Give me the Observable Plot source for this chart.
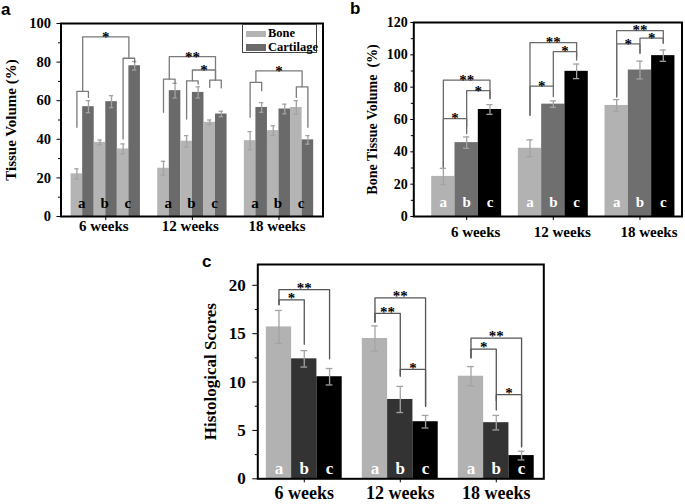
<!DOCTYPE html>
<html><head><meta charset="utf-8">
<script src="https://cdn.jsdelivr.net/npm/d3@7"></script>
<script src="https://cdn.jsdelivr.net/npm/@observablehq/plot@0.6"></script>
<style>
body{margin:0;background:#fff;}
#fig{position:relative;width:685px;height:504px;overflow:hidden;font-family:'Liberation Serif','Times New Roman',serif;}
.p{position:absolute;}
.tag{position:absolute;font-family:'Liberation Sans',Arial,sans-serif;font-weight:bold;font-size:17px;line-height:1.1;}
.lg{position:absolute;font-family:'Liberation Serif',serif;font-weight:bold;font-size:12.5px;line-height:1;}
</style></head>
<body>
<div id="fig">
  <div class="p" id="pa" style="left:0;top:0"></div>
  <div class="p" id="pb" style="left:345px;top:0"></div>
  <div class="p" id="pc" style="left:150px;top:250px"></div>
  <div class="tag" style="left:1px;top:1px">a</div>
  <div class="tag" style="left:350px;top:0px">b</div>
  <div class="tag" style="left:202px;top:253px">c</div>
  <div style="position:absolute;left:242px;top:24px;width:73px;height:27px;border:1px solid #444;background:#fff"></div>
  <div style="position:absolute;left:246px;top:31px;width:20px;height:6px;background:#b4b4b4"></div>
  <div class="lg" style="left:268px;top:27px">Bone</div>
  <div style="position:absolute;left:246px;top:44px;width:20px;height:7px;background:#6a6a6a"></div>
  <div class="lg" style="left:268px;top:41px">Cartilage</div>
</div>
<script>
const weeks = ["6 weeks", "12 weeks", "18 weeks"];
const groups = ["a", "b", "c"];

// Panel a: Tissue Volume (%), week-major order, groups a,b,c
const boneMean = [22.1, 38.4, 35, 25, 39, 48.8, 39.3, 44.5, 56.5];
const boneErr  = [2.6, 1.2, 2.6, 3.6, 2.9, 1.2, 4.7, 2.5, 3.5];
const cartMean = [56.9, 59.5, 78.1, 65.2, 64.3, 53.1, 56.5, 55.7, 39.7];
const cartErr  = [3.1, 3.1, 2.2, 3.8, 2.9, 1.4, 2.5, 2.5, 2.2];

// Panel b: Bone Tissue Volume (%)
const bvMean = [24.8, 45.7, 66.2, 42.2, 69.5, 89.8, 68.7, 90.6, 99.5];
const bvErr  = [5, 3.5, 3, 5.2, 2, 4.5, 3.6, 5.5, 3.5];

// Panel c: Histological Scores
const hsMean = [15.7, 12.4, 10.55, 14.5, 8.2, 5.9, 10.6, 5.8, 2.4];
const hsErr  = [1.7, 0.85, 0.85, 1.3, 1.35, 0.65, 1.0, 0.75, 0.45];

// Significance brackets: w = week, l/r = bar indices inside the week,
// y = bracket level, yl/yr = leg ends (data units), t = label
const aSig = [
  {w:0, l:[0], r:[1], y:64.8, yl:46.2, yr:61.7, t:""},
  {w:0, l:[4], r:[5], y:82, yl:40.2, yr:79.8, t:""},
  {w:0, l:[0,1], r:[4,5], y:93.1, yl:64.8, yr:82, t:"*"},
  {w:1, l:[0], r:[1], y:71.2, yl:54, yr:69, t:""},
  {w:1, l:[2], r:[3], y:70.3, yl:50.5, yr:68.6, t:""},
  {w:1, l:[4], r:[5], y:70.7, yl:66.9, yr:66.6, t:""},
  {w:1, l:[0,1], r:[4,5], y:82.8, yl:71.2, yr:70.7, t:"**"},
  {w:1, l:[2,3], r:[4,5], y:75.9, yl:70.3, yr:70.7, t:"*"},
  {w:2, l:[0], r:[1], y:69.5, yl:51.4, yr:65.2, t:""},
  {w:2, l:[4], r:[5], y:67.2, yl:61.7, yr:46.2, t:""},
  {w:2, l:[0,1], r:[4,5], y:75.5, yl:69.5, yr:67.2, t:"*"}
];
const bSig = [
  {w:0, l:[0], r:[1], y:60.6, yl:30.6, yr:55.9, t:"*"},
  {w:0, l:[1], r:[2], y:77.8, yl:51.3, yr:73, t:"*"},
  {w:0, l:[0], r:[2], y:84.4, yl:30.6, yr:73, t:"**"},
  {w:1, l:[0], r:[1], y:80.7, yl:62.7, yr:74.1, t:"*"},
  {w:1, l:[1], r:[2], y:102, yl:80.7, yr:98.9, t:"*"},
  {w:1, l:[0], r:[2], y:107.6, yl:62.7, yr:96.8, t:"**"},
  {w:2, l:[0], r:[1], y:106.8, yl:74, yr:101, t:"*"},
  {w:2, l:[1], r:[2], y:110.3, yl:101, yr:107.2, t:"*"},
  {w:2, l:[0], r:[2], y:115, yl:74, yr:107.2, t:"**"}
];
const cSig = [
  {w:0, l:[0], r:[1], y:18.5, yl:18.0, yr:13.9, t:"*"},
  {w:0, l:[0], r:[2], y:19.55, yl:18.0, yr:12.4, t:"**"},
  {w:1, l:[0], r:[1], y:17.1, yl:16.2, yr:10.6, t:"**"},
  {w:1, l:[0], r:[2], y:18.7, yl:16.2, yr:7.5, t:"**"},
  {w:1, l:[1], r:[2], y:11.3, yl:10.7, yr:7.5, t:"*"},
  {w:2, l:[0], r:[1], y:13.4, yl:12.5, yr:7.1, t:"*"},
  {w:2, l:[0], r:[2], y:14.55, yl:12.5, yr:3.3, t:"**"},
  {w:2, l:[1], r:[2], y:8.7, yl:8.1, yr:3.3, t:"*"}
];

const FONT = "'Liberation Serif','Times New Roman',serif";

function center(w, i, k, bw) { return w + (i - (k - 1) / 2) * bw; }

function bracketPts(sig, k, bw) {
  const pts = [];
  sig.forEach((s, j) => {
    const xl = d3.mean(s.l, i => center(s.w, i, k, bw));
    const xr = d3.mean(s.r, i => center(s.w, i, k, bw));
    pts.push({j, x: xl, y: s.yl}, {j, x: xl, y: s.y}, {j, x: xr, y: s.y}, {j, x: xr, y: s.yr});
  });
  return pts;
}
function bracketLabels(sig, k, bw) {
  return sig.filter(s => s.t).map(s => ({
    x: (d3.mean(s.l, i => center(s.w, i, k, bw)) + d3.mean(s.r, i => center(s.w, i, k, bw))) / 2,
    y: s.y, t: s.t
  }));
}

function panel(cfg) {
  const {bars, k, bw, cap, sig} = cfg;
  const errColor = "#a3a3a3";
  return Plot.plot({
    width: cfg.width, height: cfg.height,
    marginLeft: cfg.ml, marginRight: cfg.mr, marginTop: cfg.mt, marginBottom: cfg.mb,
    x: {domain: cfg.xDomain},
    y: {domain: cfg.yDomain},
    style: {fontFamily: FONT, fontWeight: "bold", fontSize: cfg.tickFont + "px", color: "black", background: "transparent", overflow: "visible"},
    marks: [
      Plot.rect(bars, {x1: d => d.c - bw / 2, x2: d => d.c + bw / 2, y1: d => 0, y2: "v", fill: "color"}),
      Plot.ruleX(bars, {x: "c", y1: d => d.v - d.e, y2: d => d.v + d.e, stroke: errColor, strokeWidth: 1.3}),
      Plot.ruleY(bars, {y: d => d.v + d.e, x1: d => d.c - cap, x2: d => d.c + cap, stroke: errColor, strokeWidth: 1.3}),
      Plot.ruleY(bars, {y: d => d.v - d.e, x1: d => d.c - cap, x2: d => d.c + cap, stroke: errColor, strokeWidth: 1.3}),
      Plot.line(bracketPts(sig, k, bw), {x: "x", y: "y", z: "j", stroke: cfg.sigColor, strokeWidth: 1.3}),
      Plot.text(bracketLabels(sig, k, bw), {x: "x", y: "y", text: "t", dy: cfg.starDy, fontSize: cfg.starFont, fill: "black"}),
      Plot.text(cfg.letters, {x: "x", y: d => 0, text: "t", dy: cfg.letterDy, dx: cfg.letterDx, fill: cfg.letterColor, fontSize: cfg.letterFont}),
      Plot.axisY({ticks: cfg.yTicks, tickSize: cfg.tickSize, tickPadding: cfg.tickPad, label: null, fontSize: cfg.tickFont}),
      Plot.axisY({ticks: cfg.yMinor, tickSize: 2.5, tickFormat: () => "", label: null}),
      Plot.axisX({ticks: [0, 1, 2], tickSize: 4, tickFormat: () => "", label: null}),
      Plot.text(weeks, {x: (d, i) => i, frameAnchor: "bottom", dy: cfg.weekDy, dx: cfg.weekDx, fontSize: cfg.weekFont, text: d => d}),
      Plot.text([cfg.ylabel], {frameAnchor: "left", textAnchor: "middle", rotate: -90, dx: cfg.ylabelDx, fontSize: cfg.ylabelFont, text: d => d}),
      Plot.frame({stroke: "black", strokeWidth: 2})
    ]
  });
}

// ---- Panel a
{
  const k = 6, bw = 0.1334;
  const bars = [], letters = [];
  for (let w = 0; w < 3; w++) for (let g = 0; g < 3; g++) {
    const n = w * 3 + g;
    bars.push({c: center(w, 2 * g, k, bw), v: boneMean[n], e: boneErr[n], color: "#b4b4b4"});
    bars.push({c: center(w, 2 * g + 1, k, bw), v: cartMean[n], e: cartErr[n], color: "#6a6a6a"});
    letters.push({x: (center(w, 2 * g, k, bw) + center(w, 2 * g + 1, k, bw)) / 2, t: groups[g]});
  }
  document.getElementById("pa").append(panel({
    bars, k, bw, cap: 0.025, sig: aSig, letters,
    width: 345, height: 250, ml: 60.5, mr: 22.5, mt: 23, mb: 34,
    xDomain: [-0.517, 2.508], yDomain: [0, 100],
    yTicks: [0, 20, 40, 60, 80, 100], yMinor: [10, 30, 50, 70, 90],
    tickFont: 14.5, tickSize: 4, tickPad: 6,
    sigColor: "#7a7a7a", starFont: 15, starDy: 0,
    letterColor: "black", letterFont: 15, letterDy: -13, letterDx: -1,
    weekFont: 15, weekDy: 14, weekDx: -2,
    ylabel: "Tissue Volume (%)", ylabelFont: 15, ylabelDx: -49.5
  }));
}
// ---- Panel b
{
  const k = 3, bw = 0.269;
  const colors = ["#b2b2b2", "#6f6f6f", "#000000"];
  const bars = [], letters = [];
  for (let w = 0; w < 3; w++) for (let g = 0; g < 3; g++) {
    const n = w * 3 + g;
    bars.push({c: center(w, g, k, bw), v: bvMean[n], e: bvErr[n], color: colors[g]});
    letters.push({x: center(w, g, k, bw), t: groups[g]});
  }
  document.getElementById("pb").append(panel({
    bars, k, bw, cap: 0.036, sig: bSig, letters,
    width: 340, height: 250, ml: 68.3, mr: 3.5, mt: 22, mb: 34,
    xDomain: [-0.61, 2.485], yDomain: [0, 120],
    yTicks: [0, 20, 40, 60, 80, 100, 120], yMinor: [10, 30, 50, 70, 90, 110],
    tickFont: 14, tickSize: 3, tickPad: 3,
    sigColor: "#6a6a6a", starFont: 15, starDy: 0,
    letterColor: "white", letterFont: 15, letterDy: -14, letterDx: 0,
    weekFont: 15, weekDy: 20, weekDx: 9,
    ylabel: "Bone Tissue Volume\u00a0 (%)", ylabelFont: 14, ylabelDx: -41.6
  }));
}
// ---- Panel c
{
  const k = 3, bw = 0.2635;
  const colors = ["#b2b2b2", "#333333", "#000000"];
  const bars = [], letters = [];
  for (let w = 0; w < 3; w++) for (let g = 0; g < 3; g++) {
    const n = w * 3 + g;
    bars.push({c: center(w, g, k, bw), v: hsMean[n], e: hsErr[n], color: colors[g]});
    letters.push({x: center(w, g, k, bw), t: groups[g]});
  }
  document.getElementById("pc").append(panel({
    bars, k, bw, cap: 0.035, sig: cSig, letters,
    width: 400, height: 254, ml: 107.3, mr: 6.7, mt: 14, mb: 25.7,
    xDomain: [-0.484, 2.495], yDomain: [0, 22.15],
    yTicks: [0, 5, 10, 15, 20], yMinor: [2.5, 7.5, 12.5, 17.5],
    tickFont: 17, tickSize: 5, tickPad: 7,
    sigColor: "#555555", starFont: 15, starDy: -1.5,
    letterColor: "white", letterFont: 17, letterDy: -10.5, letterDx: 0,
    weekFont: 18, weekDy: 20, weekDx: 0,
    ylabel: "Histological Scores", ylabelFont: 17, ylabelDx: -47
  }));
}
</script>
</body></html>
